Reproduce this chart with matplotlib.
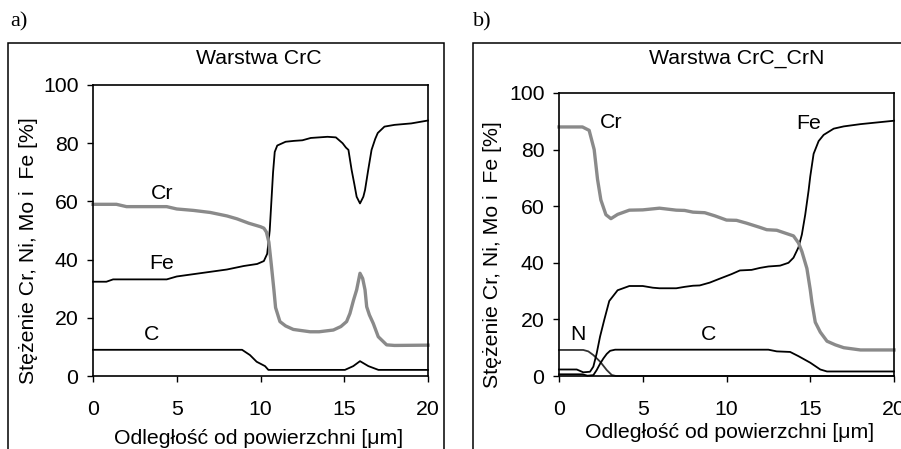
import matplotlib
matplotlib.use("Agg")
import matplotlib.pyplot as plt
from matplotlib.patches import Rectangle

plt.rcParams['font.family'] = ['Liberation Sans', 'DejaVu Sans']

# ---------------- Panel a: Warstwa CrC ----------------
a_cr_x = [0.0, 1.4, 2.0, 4.4, 5.0, 6.0, 7.0, 8.0, 8.6, 9.3, 10.0, 10.2, 10.35, 10.5, 10.65, 10.8, 10.9, 11.16, 11.5, 11.96, 12.96, 13.5, 14.35, 14.8, 15.14, 15.34, 15.55, 15.74, 15.94, 16.1, 16.24, 16.34, 16.5, 16.73, 17.03, 17.53, 18.0, 20.0]
a_cr_y = [59.0, 59.0, 58.2, 58.2, 57.4, 56.9, 56.2, 55.0, 54.0, 52.5, 51.3, 50.8, 49.5, 46.0, 38.0, 29.6, 23.5, 18.7, 17.2, 16.0, 15.2, 15.2, 15.8, 17.0, 18.7, 21.5, 26.0, 29.6, 35.3, 33.5, 29.6, 23.8, 21.0, 18.1, 13.5, 10.7, 10.5, 10.6]

a_fe_x = [0.0, 0.8, 1.2, 4.4, 5.0, 6.0, 7.0, 8.0, 9.0, 9.8, 10.2, 10.4, 10.55, 10.65, 10.75, 10.85, 11.0, 11.5, 12.0, 12.5, 13.0, 14.0, 14.5, 14.9, 15.1, 15.25, 15.44, 15.6, 15.74, 15.94, 16.14, 16.24, 16.43, 16.63, 16.85, 17.0, 17.4, 18.0, 19.0, 20.0]
a_fe_y = [32.4, 32.4, 33.2, 33.2, 34.2, 35.0, 35.8, 36.6, 37.8, 38.5, 39.5, 42.0, 50.0, 60.0, 70.0, 77.0, 79.2, 80.5, 80.8, 81.0, 81.8, 82.2, 82.0, 80.0, 78.5, 77.7, 70.8, 66.0, 61.6, 59.3, 61.6, 63.9, 70.8, 77.7, 81.5, 83.5, 85.7, 86.3, 86.8, 87.8]

a_c_x = [0.0, 8.9, 9.37, 9.77, 10.27, 10.47, 15.04, 15.54, 15.94, 16.44, 17.04, 20.0]
a_c_y = [9.0, 9.0, 7.2, 4.9, 3.4, 2.1, 2.1, 3.4, 5.1, 3.4, 2.1, 2.1]

# ---------------- Panel b: Warstwa CrC_CrN ----------------
b_cr_x = [0.0, 1.4, 1.8, 2.1, 2.3, 2.5, 2.8, 3.1, 3.5, 4.2, 5.0, 6.0, 7.0, 7.5, 8.0, 8.7, 9.3, 10.0, 10.6, 11.2, 12.0, 12.4, 13.0, 13.5, 14.0, 14.3, 14.5, 14.8, 15.0, 15.1, 15.3, 15.6, 16.0, 16.5, 17.0, 18.0, 20.0]
b_cr_y = [88.0, 88.0, 86.8, 80.0, 69.5, 62.2, 57.0, 55.6, 57.1, 58.6, 58.7, 59.3, 58.6, 58.5, 57.9, 57.7, 56.6, 55.1, 55.0, 54.0, 52.5, 51.7, 51.5, 50.5, 49.5, 47.0, 44.0, 38.0, 30.5, 26.0, 19.0, 15.5, 12.3, 11.0, 10.0, 9.2, 9.2]

b_fe_x = [0.0, 1.06, 1.45, 1.85, 2.05, 2.25, 2.45, 2.7, 3.0, 3.5, 4.2, 5.0, 5.6, 6.0, 7.0, 7.5, 8.0, 8.4, 9.0, 9.6, 10.3, 10.8, 11.5, 12.0, 12.5, 13.2, 13.7, 14.0, 14.3, 14.5, 14.7, 14.9, 15.0, 15.2, 15.5, 15.8, 16.4, 17.0, 18.0, 20.0]
b_fe_y = [2.3, 2.3, 1.3, 1.5, 3.3, 8.0, 13.9, 19.8, 26.5, 30.3, 31.8, 31.8, 31.2, 31.0, 31.0, 31.5, 31.9, 32.0, 33.0, 34.4, 36.0, 37.3, 37.5, 38.2, 38.7, 39.0, 40.0, 41.8, 45.5, 50.0, 57.0, 65.5, 70.5, 78.5, 83.0, 85.2, 87.4, 88.2, 89.0, 90.2]

b_c_x = [0.0, 1.4, 1.7, 2.05, 2.25, 2.45, 2.65, 2.85, 3.05, 3.35, 12.5, 13.0, 13.8, 14.3, 15.0, 15.6, 16.0, 20.0]
b_c_y = [0.6, 0.6, 0.1, 0.3, 2.1, 4.3, 6.2, 7.8, 8.9, 9.3, 9.3, 8.7, 8.5, 7.0, 4.7, 2.3, 1.6, 1.6]

b_n_x = [0.0, 1.45, 1.75, 2.05, 2.45, 2.85, 3.15, 3.4, 20.0]
b_n_y = [9.2, 9.2, 8.7, 7.4, 5.1, 2.1, 0.35, 0.0, 0.0]

x_ticks = [0, 5, 10, 15, 20]
y_ticks = [0, 20, 40, 60, 80, 100]

W, H = 901, 449
fig = plt.figure(figsize=(W / 100, H / 100), dpi=100)

def fx(px):
    return px / W

def fy(py):
    return 1 - py / H

# frames
fig.patches.append(Rectangle((fx(8), fy(470)), fx(444) - fx(8), fy(43) - fy(470),
                             transform=fig.transFigure, fill=False, lw=1.1, ec='black'))
fig.patches.append(Rectangle((fx(473), fy(470)), fx(930) - fx(473), fy(43) - fy(470),
                             transform=fig.transFigure, fill=False, lw=1.1, ec='black'))

GRAY = '#8a8a8a'
FS = 15.3

def make_axes(l, r, t, b):
    ax = fig.add_axes([fx(l), fy(b), fx(r) - fx(l), fy(t) - fy(b)])
    ax.set_xlim(0, 20)
    ax.set_ylim(0, 100)
    ax.set_xticks(x_ticks)
    ax.set_yticks(y_ticks)
    ax.tick_params(direction='out', length=4.5, width=1.0, labelsize=FS)
    ax.tick_params(axis='x', pad=13)
    ax.tick_params(axis='y', pad=6)
    for s in ax.spines.values():
        s.set_linewidth(1.2)
    ax.set_facecolor('none')
    return ax

ax1 = make_axes(93, 428, 85, 376)
ax1.plot(a_c_x, a_c_y, color='black', lw=1.3, clip_on=False)
ax1.plot(a_fe_x, a_fe_y, color='black', lw=1.3, clip_on=False)
ax1.plot(a_cr_x, a_cr_y, color=GRAY, lw=2.4, clip_on=False, solid_joinstyle='round')
ax1.text(4.1, 62.7, 'Cr', fontsize=FS, ha='center', va='center')
ax1.text(4.1, 38.6, 'Fe', fontsize=FS, ha='center', va='center')
ax1.text(3.5, 14.2, 'C', fontsize=FS, ha='center', va='center')

ax2 = make_axes(559, 894, 93, 376)
ax2.plot(b_n_x, b_n_y, color='#333333', lw=1.3, clip_on=False)
ax2.plot(b_c_x, b_c_y, color='black', lw=1.3, clip_on=False)
ax2.plot(b_fe_x, b_fe_y, color='black', lw=1.3, clip_on=False)
ax2.plot(b_cr_x, b_cr_y, color=GRAY, lw=2.4, clip_on=False, solid_joinstyle='round')
ax2.text(3.1, 89.4, 'Cr', fontsize=FS, ha='center', va='center')
ax2.text(14.9, 89.1, 'Fe', fontsize=FS, ha='center', va='center')
ax2.text(1.15, 14.8, 'N', fontsize=FS, ha='center', va='center')
ax2.text(8.9, 14.8, 'C', fontsize=FS, ha='center', va='center')

# titles and labels
fig.text(fx(259), fy(59), 'Warstwa CrC', fontsize=FS, ha='center', va='center')
fig.text(fx(737), fy(59), 'Warstwa CrC_CrN', fontsize=FS, ha='center', va='center')
ylab = 'Stężenie Cr, Ni, Mo i  Fe [%]'
fig.text(fx(29), fy(251), ylab, fontsize=FS, rotation=90, ha='center', va='center')
fig.text(fx(493), fy(255), ylab, fontsize=FS, rotation=90, ha='center', va='center')
xlab = 'Odległość od powierzchni [μm]'
fig.text(fx(259), fy(439), xlab, fontsize=FS, ha='center', va='center')
fig.text(fx(730), fy(433), xlab, fontsize=FS, ha='center', va='center')

fig.text(fx(10), fy(22), 'a)', fontsize=16, ha='left', va='center', family='Liberation Serif')
fig.text(fx(473), fy(22), 'b)', fontsize=16, ha='left', va='center', family='Liberation Serif')

fig.savefig('out.png', dpi=100)
